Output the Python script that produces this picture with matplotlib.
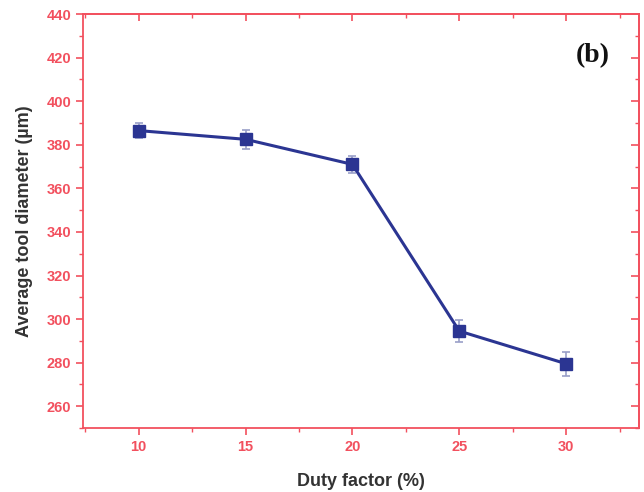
import matplotlib
matplotlib.use("Agg")
import matplotlib.pyplot as plt
from matplotlib.ticker import MultipleLocator

# data
duty_factor = [10, 15, 20, 25, 30]
diameter = [386.5, 382.5, 371.0, 294.5, 279.5]
err = [3.5, 4.5, 4.0, 5.0, 5.5]

axis_red = '#f2505e'
line_blue = '#2b3592'

plt.rcParams['font.family'] = ['Liberation Sans', 'DejaVu Sans']

fig = plt.figure(figsize=(6.44, 4.92), dpi=100)
ax = fig.add_axes([0.129, 0.130, 0.863, 0.8415])

ax.errorbar(duty_factor, diameter, yerr=err, color=line_blue, lw=2.2,
            marker='s', ms=8, mfc=line_blue, mec=line_blue,
            ecolor='#9a9fc8', elinewidth=1.2, capsize=3, capthick=1.2, zorder=3)

ax.set_xlim(7.4, 33.4)
ax.set_ylim(250, 440)
ax.xaxis.set_major_locator(MultipleLocator(5))
ax.xaxis.set_minor_locator(MultipleLocator(2.5))
ax.yaxis.set_major_locator(MultipleLocator(20))
ax.yaxis.set_minor_locator(MultipleLocator(10))

for s in ax.spines.values():
    s.set_color(axis_red)
    s.set_linewidth(1.3)

ax.tick_params(which='both', colors=axis_red, direction='out',
               top=False, right=False, labelsize=10.5)
ax.tick_params(which='major', length=5, width=1.2)
ax.tick_params(which='minor', length=3, width=1.0)
for lab in ax.get_xticklabels() + ax.get_yticklabels():
    lab.set_fontweight('bold')
    lab.set_color(axis_red)

# mirrored ticks on the top and right point inward
ax2 = ax.secondary_xaxis('top')
ax2.xaxis.set_major_locator(MultipleLocator(5))
ax2.xaxis.set_minor_locator(MultipleLocator(2.5))
ax2.tick_params(which='both', direction='in', colors=axis_red, labeltop=False)
ax2.tick_params(which='major', length=5, width=1.2)
ax2.tick_params(which='minor', length=3, width=1.0)
ax2.spines['top'].set_color(axis_red)
ax2.spines['top'].set_linewidth(1.3)
ax3 = ax.secondary_yaxis('right')
ax3.yaxis.set_major_locator(MultipleLocator(20))
ax3.yaxis.set_minor_locator(MultipleLocator(10))
ax3.tick_params(which='both', direction='in', colors=axis_red, labelright=False)
ax3.tick_params(which='major', length=6, width=1.2)
ax3.tick_params(which='minor', length=3, width=1.0)
ax3.spines['right'].set_color(axis_red)
ax3.spines['right'].set_linewidth(1.3)

ax.set_xlabel('Duty factor (%)', fontsize=13, fontweight='bold', color='#333333', labelpad=14)
ax.set_ylabel('Average tool diameter (µm)', fontsize=13, fontweight='bold', color='#333333', labelpad=10)

ax.text(0.917, 0.90, '(b)', transform=ax.transAxes, fontsize=20, fontweight='bold',
        family=['Liberation Serif', 'DejaVu Serif'], ha='center', va='center', color='#111111')

fig.savefig('out.png', dpi=100)
